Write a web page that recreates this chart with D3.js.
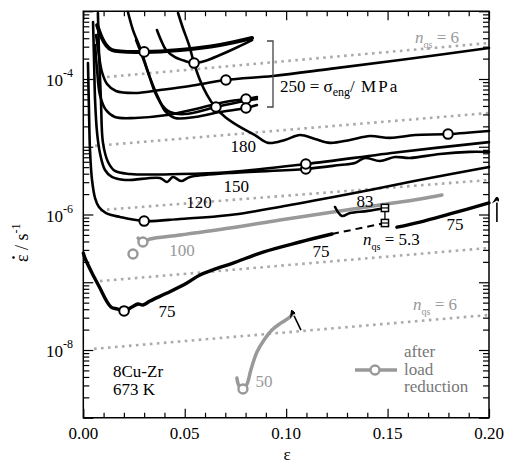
<!DOCTYPE html>
<html>
<head>
<meta charset="utf-8">
<script src="https://cdn.jsdelivr.net/npm/d3@7"></script>
<style>
  body { margin: 0; background: #fff; }
  text { font-family: "Liberation Serif", "DejaVu Serif", serif; }
</style>
</head>
<body>
<svg id="chart" width="505" height="466" font-family="Liberation Serif, DejaVu Serif, serif"></svg>
<script>
// ---- data: [true strain, strain rate / s^-1] ----
// 250 MPa group (bracketed)
const s250a = [[0.0068,6.26e-4],[0.0092,4.03e-4],[0.0112,3.18e-4],[0.0141,2.68e-4],[0.030,2.51e-4],[0.0477,2.68e-4],[0.0674,3.18e-4],[0.0832,4.03e-4]];
const s250b = [[0.0363,5.28e-4],[0.0383,3.75e-4],[0.0408,2.68e-4],[0.0452,2.11e-4],[0.0501,1.85e-4],[0.0546,1.72e-4],[0.0600,1.85e-4],[0.0674,2.26e-4],[0.0762,2.97e-4],[0.0832,3.75e-4]];
const s250c = [[0.0063,4.46e-4],[0.0077,2.26e-4],[0.0092,1.27e-4],[0.0117,8.44e-5],[0.0161,6.65e-5],[0.0255,6.21e-5],[0.0378,6.88e-5],[0.0526,7.88e-5],[0.0703,9.66e-5],[0.0935,1.11e-4],[0.1216,1.41e-4],[0.1561,1.91e-4],[0.200,2.87e-4]];
const s250d = [[0.0058,3.18e-4],[0.0068,1.36e-4],[0.0082,5.81e-5],[0.0112,3.48e-5],[0.0156,2.75e-5],[0.0255,2.66e-5],[0.0413,2.94e-5],[0.0575,3.73e-5],[0.0699,4.58e-5],[0.0802,5.07e-5],[0.0856,5.42e-5]];
const s250e = [[0.0220,9.75e-4],[0.0245,5.28e-4],[0.0280,2.87e-4],[0.0319,1.27e-4],[0.0353,6.43e-5],[0.0388,4.13e-5],[0.0427,3.26e-5],[0.0501,3.04e-5],[0.0654,3.86e-5],[0.0797,4.73e-5],[0.0856,5.07e-5]];
const s250f = [[0.0260,3.75e-4],[0.0294,2.04e-4],[0.0329,1.04e-4],[0.0368,5.42e-5],[0.0407,3.26e-5],[0.0452,2.66e-5],[0.0550,2.75e-5],[0.0674,3.26e-5],[0.0802,3.73e-5],[0.0856,4.13e-5]];
const s180 = [[0.0467,9.42e-4],[0.0491,5.66e-4],[0.0521,3.18e-4],[0.0546,1.72e-4],[0.0575,9.66e-5],[0.0610,5.81e-5],[0.0649,3.86e-5],[0.0699,2.75e-5],[0.0772,1.96e-5],[0.0846,1.49e-5],[0.0911,1.14e-5],[0.0994,1.26e-5],[0.1068,1.49e-5],[0.1142,1.30e-5],[0.1216,1.14e-5],[0.1315,1.26e-5],[0.1413,1.44e-5],[0.1512,1.35e-5],[0.1635,1.49e-5],[0.1798,1.54e-5],[0.200,1.71e-5]];
const s150a = [[0.0048,6.93e-4],[0.0053,1.91e-4],[0.0058,4.90e-5],[0.0068,1.60e-5],[0.0082,8.09e-6],[0.0107,4.54e-6],[0.0141,3.58e-6],[0.0206,3.23e-6],[0.0378,3.46e-6],[0.0413,3.02e-6],[0.0442,3.58e-6],[0.0482,3.12e-6],[0.0526,3.58e-6],[0.0723,4.10e-6],[0.1097,4.70e-6],[0.1265,5.38e-6],[0.1339,5.75e-6],[0.1388,6.83e-6],[0.1462,6.17e-6],[0.1536,7.06e-6],[0.1610,6.83e-6],[0.1758,7.82e-6],[0.1906,8.40e-6],[0.200,8.37e-6]];
const s150b = [[0.0072,9.42e-4],[0.0077,2.68e-4],[0.0087,4.90e-5],[0.0097,1.14e-5],[0.0122,5.96e-6],[0.0156,4.39e-6],[0.0230,3.96e-6],[0.0477,3.96e-6],[0.0723,4.24e-6],[0.1097,5.56e-6],[0.1561,8.37e-6],[0.200,1.17e-5]];
const s120 = [[0.0023,1.72e-4],[0.0028,3.48e-5],[0.0033,8.95e-6],[0.0043,3.23e-6],[0.0058,1.75e-6],[0.0077,1.29e-6],[0.0112,1.05e-6],[0.0181,9.18e-7],[0.030,8.01e-7],[0.0477,8.59e-7],[0.0723,9.84e-7],[0.1019,1.38e-6],[0.1413,2.30e-6],[0.1709,3.46e-6],[0.200,5.02e-6]];
const s83 = [[0.1241,1.29e-6],[0.1275,9.51e-7],[0.1315,1.05e-6],[0.1403,1.13e-6],[0.1487,1.25e-6]];
const s75 = [[0.000,2.70e-7],[0.0008,2.28e-7],[0.0043,1.37e-7],[0.0082,8.22e-8],[0.0112,5.47e-8],[0.0137,4.31e-8],[0.0166,4.03e-8],[0.0201,3.77e-8],[0.0240,4.31e-8],[0.0270,4.78e-8],[0.0294,4.61e-8],[0.0329,5.28e-8],[0.0413,6.93e-8],[0.0511,9.75e-8],[0.0575,1.28e-7],[0.0639,1.52e-7],[0.0738,1.92e-7],[0.0886,2.79e-7],[0.1068,3.93e-7],[0.1226,5.15e-7]];
const s75extrap = [[0.1226,5.15e-7],[0.1487,7.49e-7]];
const s75after = [[0.1546,6.50e-7],[0.1659,7.74e-7],[0.1807,1.02e-6],[0.200,1.48e-6]];
// after load reduction (grey)
const s100 = [[0.0270,4.50e-7],[0.0294,3.93e-7],[0.0329,4.35e-7],[0.0477,4.98e-7],[0.0723,6.32e-7],[0.0970,8.30e-7],[0.1231,1.09e-6],[0.1463,1.38e-6],[0.1660,1.69e-6],[0.1768,1.94e-6]];
const s50 = [[0.0757,3.86e-9],[0.0768,2.94e-9],[0.0787,2.66e-9],[0.0807,3.15e-9],[0.0826,5.07e-9],[0.0856,9.33e-9],[0.0891,1.41e-8],[0.0930,1.97e-8],[0.0975,2.51e-8],[0.1019,3.07e-8],[0.1034,3.52e-8]];
// open-circle markers
const blackMarks = [[0.030,2.51e-4],[0.0546,1.72e-4],[0.0703,9.66e-5],[0.0802,5.07e-5],[0.0654,3.86e-5],[0.0802,3.73e-5],[0.1798,1.54e-5],[0.1097,4.70e-6],[0.1097,5.56e-6],[0.030,8.01e-7],[0.0201,3.77e-8]];
const greyMarks = [[0.0294,3.93e-7],[0.0245,2.61e-7],[0.0787,2.66e-9]];
const squareMarks = [[0.1487,1.25e-6],[0.1487,7.49e-7]];
// n_qs = 6 reference lines (start, end)
const nqsLines = [
  [[0.0117,1.07e-4],[0.200,3.40e-4]],
  [[0.0058,1.03e-5],[0.200,3.15e-5]],
  [[0.0082,1.16e-6],[0.200,3.23e-6]],
  [[0.0082,1.04e-7],[0.200,3.21e-7]],
  [[0.0053,1.04e-8],[0.200,3.29e-8]]
];
// stress labels: text, strain, rate (baseline)
const stressLabels = [
  ["180",0.0788,8.37e-6,"#000"],["150",0.0754,2.15e-6,"#000"],["120",0.0570,1.25e-6,"#000"],
  ["100",0.0487,2.44e-7,"#999"],["83",0.1389,1.29e-6,"#000"],["75",0.0413,3.07e-8,"#000"],
  ["75",0.1172,2.36e-7,"#000"],["75",0.1832,5.90e-7,"#000"],["50",0.0891,2.84e-9,"#999"]
];
const strainTicks = [0, 0.05, 0.10, 0.15, 0.20];
const strainTickLabels = ["0.00","0.05","0.10","0.15","0.20"];
const rateLabelTicks = [1e-4, 1e-6, 1e-8];
const rateLabelExp = ["-4","-6","-8"];

// ---- scales ----
const x = d3.scaleLinear().domain([0, 0.2]).range([83.3, 489]);
const y = d3.scaleLog().domain([1e-9, 1e-3]).range([417.75, 11.25]);
const svg = d3.select('#chart');
const line = d3.line().x(d => x(d[0])).y(d => y(d[1])).curve(d3.curveCatmullRom.alpha(0.5));

svg.append('defs').append('marker')
  .attr('id', 'arr').attr('viewBox', '-6 -8 12 10').attr('markerWidth', 12).attr('markerHeight', 10)
  .attr('markerUnits', 'userSpaceOnUse').attr('orient', 'auto-start-reverse').attr('refX', 0).attr('refY', 0)
  .append('path').attr('d', 'M0,-7 L5,1 L0,-2 L-5,1 Z').attr('transform', 'rotate(90)').attr('fill', '#000');

// dotted n_qs lines
svg.append('g').selectAll('path').data(nqsLines).join('path')
  .attr('d', d => d3.line().x(p => x(p[0])).y(p => y(p[1]))(d))
  .attr('fill', 'none').attr('stroke', '#aaa').attr('stroke-width', 2.6).attr('stroke-dasharray', '2.6 4.4');

// grey curves
svg.append('g').selectAll('path').data([s100, s50]).join('path')
  .attr('d', line).attr('fill', 'none').attr('stroke', '#999').attr('stroke-width', 3.5).attr('stroke-linecap', 'round');

// black curves
const blackCurves = [s250a, s250b, s250c, s250d, s250e, s250f, s180, s150a, s150b, s120, s83, s75, s75after];
svg.append('g').selectAll('path').data(blackCurves).join('path')
  .attr('d', line).attr('fill', 'none').attr('stroke', '#000')
  .attr('stroke-width', (d, i) => i === 0 ? 4 : (i >= 11 ? 3.4 : 2.6)).attr('stroke-linecap', 'round');
svg.append('path').attr('d', d3.line().x(d => x(d[0])).y(d => y(d[1]))(s75extrap))
  .attr('fill', 'none').attr('stroke', '#000').attr('stroke-width', 2).attr('stroke-dasharray', '7 5');

// squares joined by a vertical line
svg.append('line').attr('x1', x(squareMarks[0][0])).attr('x2', x(squareMarks[1][0]))
  .attr('y1', y(squareMarks[0][1])).attr('y2', y(squareMarks[1][1])).attr('stroke', '#000').attr('stroke-width', 1.3);
svg.append('g').selectAll('g').data(squareMarks).join('g')
  .attr('transform', d => `translate(${x(d[0])},${y(d[1])})`)
  .call(g => g.append('rect').attr('x', -3.6).attr('y', -3.6).attr('width', 7.2).attr('height', 7.2)
    .attr('fill', '#fff').attr('stroke', '#000').attr('stroke-width', 1.5))
  .call(g => g.append('line').attr('x1', -3.6).attr('x2', 3.6).attr('stroke', '#000').attr('stroke-width', 1.2));

// open circles
svg.append('g').selectAll('circle').data(blackMarks).join('circle')
  .attr('cx', d => x(d[0])).attr('cy', d => y(d[1])).attr('r', 4.8)
  .attr('fill', '#fff').attr('stroke', '#000').attr('stroke-width', 2);
svg.append('g').selectAll('circle').data(greyMarks).join('circle')
  .attr('cx', d => x(d[0])).attr('cy', d => y(d[1])).attr('r', 4.5)
  .attr('fill', '#fff').attr('stroke', '#999').attr('stroke-width', 2.4);

// arrows
svg.append('line').attr('x1', x(0.2039)).attr('y1', y(7.74e-7)).attr('x2', x(0.2039)).attr('y2', y(1.50e-6))
  .attr('stroke', '#000').attr('stroke-width', 1.6).attr('marker-end', 'url(#arr)');
svg.append('line').attr('x1', x(0.1073)).attr('y1', y(1.97e-8)).attr('x2', x(0.1039)).attr('y2', y(3.20e-8))
  .attr('stroke', '#000').attr('stroke-width', 1.6).attr('marker-end', 'url(#arr)');

// stress labels
svg.append('g').selectAll('text').data(stressLabels).join('text')
  .attr('x', d => x(d[1])).attr('y', d => y(d[2])).attr('text-anchor', 'middle')
  .attr('font-size', 17).attr('fill', d => d[3]).text(d => d[0]);

// bracket + 250 label
svg.append('path').attr('d', 'M267,41H273V107H267').attr('fill', 'none').attr('stroke', '#444').attr('stroke-width', 1.3);
const t250 = svg.append('text').attr('x', 280).attr('y', 92).attr('font-size', 17);
t250.append('tspan').text('250 = σ');
t250.append('tspan').attr('font-size', 12).attr('dy', 4).text('eng');
t250.append('tspan').attr('dy', -4).text('/');
t250.append('tspan').attr('letter-spacing', 2).text(' MPa');

// n_qs labels
function nqs(xp, yp, val, col) {
  const t = svg.append('text').attr('x', xp).attr('y', yp).attr('font-size', 17).attr('fill', col);
  t.append('tspan').attr('font-style', 'italic').text('n');
  t.append('tspan').attr('font-size', 10).attr('dy', 5).text('qs');
  t.append('tspan').attr('dy', -5).text(' = ' + val);
}
nqs(415, 43, '6', '#999');
nqs(413, 310, '6', '#999');
nqs(363, 245, '5.3', '#000');

// alloy / temperature
svg.append('text').attr('x', 113).attr('y', 377).attr('font-size', 17).text('8Cu-Zr');
svg.append('text').attr('x', 113).attr('y', 395).attr('font-size', 17).text('673 K');

// legend
svg.append('line').attr('x1', 355).attr('x2', 397).attr('y1', 370).attr('y2', 370).attr('stroke', '#999').attr('stroke-width', 3.5);
svg.append('circle').attr('cx', 375).attr('cy', 370).attr('r', 4.5).attr('fill', '#fff').attr('stroke', '#999').attr('stroke-width', 2.4);
['after', 'load', 'reduction'].forEach((s, i) => {
  svg.append('text').attr('x', 404).attr('y', 357 + i * 17.5).attr('font-size', 17).attr('fill', '#777').text(s);
});

// ---- axes (ticks inward on all four sides) ----
const xMinor = d3.range(0, 21).map(i => i / 100).filter(v => Math.round(v * 100) % 5 !== 0);
const yMajor = d3.range(-9, -2).map(e => Math.pow(10, e));
const yMinor = [];
for (let e = -9; e < -3; e++) for (let k = 2; k < 10; k++) yMinor.push(+(k + 'e' + e));

function ticks(axis, vals, size, tr) {
  const g = svg.append('g').attr('transform', tr)
    .call(axis.tickValues(vals).tickSize(size).tickSizeOuter(0).tickFormat(''));
  g.select('.domain').remove();
  g.selectAll('line').attr('stroke', '#000').attr('stroke-width', 1.2);
}
ticks(d3.axisBottom(x), strainTicks, -9, 'translate(0,417.75)');
ticks(d3.axisBottom(x), xMinor, -5, 'translate(0,417.75)');
ticks(d3.axisTop(x), strainTicks, -9, 'translate(0,11.25)');
ticks(d3.axisTop(x), xMinor, -5, 'translate(0,11.25)');
ticks(d3.axisLeft(y), yMajor, -10, 'translate(83.3,0)');
ticks(d3.axisLeft(y), yMinor, -6, 'translate(83.3,0)');
ticks(d3.axisRight(y), yMajor, -10, 'translate(489,0)');
ticks(d3.axisRight(y), yMinor, -6, 'translate(489,0)');

svg.append('rect').attr('x', 83.3).attr('y', 11.25).attr('width', 489 - 83.3).attr('height', 417.75 - 11.25)
  .attr('fill', 'none').attr('stroke', '#000').attr('stroke-width', 1.5);

// tick labels (axis generator leaves them blank; they are set here in the figure's font)
svg.append('g').selectAll('text').data(strainTicks).join('text')
  .attr('x', d => x(d)).attr('y', 439).attr('text-anchor', 'middle').attr('font-size', 17)
  .text((d, i) => strainTickLabels[i]);
svg.append('g').selectAll('text').data(rateLabelTicks).join('text')
  .attr('x', 73).attr('y', d => y(d) + 7).attr('text-anchor', 'end').attr('font-size', 17)
  .each(function (d, i) {
    const t = d3.select(this);
    t.append('tspan').text('10');
    t.append('tspan').attr('font-size', 12).attr('dy', -9).text(rateLabelExp[i]);
  });

// axis titles
svg.append('text').attr('x', 287).attr('y', 460).attr('text-anchor', 'middle').attr('font-size', 17).text('ε');
// y title: epsilon-dot drawn as epsilon plus a separate dot (combining dot lands off-glyph)
const yg = svg.append('g').attr('transform', 'translate(28,232) rotate(-90)');
const yt = yg.append('text').attr('x', -30).attr('y', 0).attr('font-size', 18);
yt.append('tspan').text('ε / s');
yt.append('tspan').attr('font-size', 12).attr('dy', -8).text('-1');
yg.append('circle').attr('cx', -25.5).attr('cy', -14.5).attr('r', 1.3).attr('fill', '#000');
</script>
</body>
</html>
